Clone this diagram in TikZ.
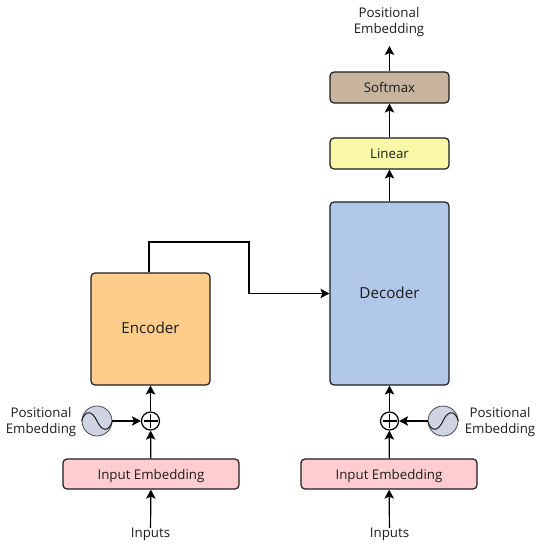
\documentclass[tikz,border=0pt]{standalone}
\usepackage{fontspec}
\setmainfont{Open Sans}
\usepackage{xcolor}
\usetikzlibrary{arrows.meta,positioning,calc}
\definecolor{encoderfill}{HTML}{FFCC8A}
\definecolor{decoderfill}{HTML}{B0C7E9}
\definecolor{softmaxfill}{HTML}{C7B39E}
\definecolor{linearfill}{HTML}{FAF9A8}
\definecolor{embedfill}{HTML}{FFCDD0}
\definecolor{sinefill}{HTML}{CED4E2}
\definecolor{inkline}{HTML}{1C1C1C}
\tikzset{
  block/.style={draw=inkline, line width=1.2pt, rounded corners=4pt, minimum width=119pt, align=center, text=inkline, inner sep=0pt, text depth=0pt},
  bigblock/.style={block, font=\fontsize{15.2}{16}\selectfont, text depth=2pt},
  label/.style={font=\fontsize{13.3}{16}\selectfont, align=center, text=inkline, inner sep=0pt},
  link/.style={-{Stealth[length=9pt,width=9.5pt,inset=2pt]}, line width=1.2pt, draw=black},
  sumnode/.style={circle, draw=black, fill=white, line width=1.2pt, minimum size=18pt, inner sep=0pt},
  sinenode/.style={circle, draw=inkline!80, fill=sinefill, line width=0.8pt, minimum size=30pt, inner sep=0pt},
}
\begin{document}
\begin{tikzpicture}[x=1pt,y=-1pt]
  \useasboundingbox (0,0) rectangle (539,550);

  % --- Encoder side ---
  \node[bigblock, fill=encoderfill, minimum height=112pt] (encoder) at (150.5,329) {Encoder};
  \node[sumnode] (sumL) at (150.5,421) {};
  \draw[line width=1.3pt] ($(sumL)+(-7,0)$) -- ($(sumL)+(7,0)$) ($(sumL)+(0,-7)$) -- ($(sumL)+(0,7)$);
  \node[sinenode] (sineL) at (97,421) {};
  \draw[line width=1pt, inkline] (sineL.west) .. controls (85,410) and (92,410) .. (97,421) .. controls (102,432) and (109,432) .. (sineL.east);
  \node[label] (posL) at (41,422) {Positional\\Embedding};
  \node[block, fill=embedfill, minimum width=176pt, minimum height=30pt, font=\fontsize{13.3}{14}\selectfont] (embedL) at (151,474) {Input Embedding};
  \node[label] (inL) at (150.5,534.5) {Inputs};

  % --- Decoder side ---
  \node[bigblock, fill=decoderfill, minimum height=183pt] (decoder) at (389.5,293.5) {Decoder};
  \node[block, fill=linearfill, minimum height=31pt, font=\fontsize{13.3}{14}\selectfont] (linear) at (389.5,153.5) {Linear};
  \node[block, fill=softmaxfill, minimum height=31pt, font=\fontsize{13.3}{14}\selectfont] (softmax) at (389.5,87.5) {Softmax};
  \node[label] (posOut) at (389,22.5) {Positional\\Embedding};
  \coordinate (outTip) at (389.5,46);
  \node[sumnode] (sumR) at (389.5,421) {};
  \draw[line width=1.3pt] ($(sumR)+(-7,0)$) -- ($(sumR)+(7,0)$) ($(sumR)+(0,-7)$) -- ($(sumR)+(0,7)$);
  \node[sinenode] (sineR) at (443,421) {};
  \draw[line width=1pt, inkline] (sineR.west) .. controls (431,432) and (438,432) .. (443,421) .. controls (448,410) and (455,410) .. (sineR.east);
  \node[label] (posR) at (500,422) {Positional\\Embedding};
  \node[block, fill=embedfill, minimum width=176pt, minimum height=30pt, font=\fontsize{13.3}{14}\selectfont] (embedR) at (389,474) {Input Embedding};
  \node[label] (inR) at (389.5,534.5) {Inputs};

  % Connectors
  \foreach \a/\b in {inL/embedL, embedL/sumL, sumL/encoder, inR/embedR, embedR/sumR, sumR/decoder, decoder/linear, linear/softmax} {
    \draw[link] (\a) -- (\b);
  }
  \draw[link] (sineL) -- (sumL);
  \draw[link] (sineR) -- (sumR);
  \draw[link] (softmax) -- (outTip);
  \draw[link] (encoder.north -| 149,0) -- (149,242) -- (249,242) -- (249,293.5) -- (decoder.west);
\end{tikzpicture}
\end{document}
